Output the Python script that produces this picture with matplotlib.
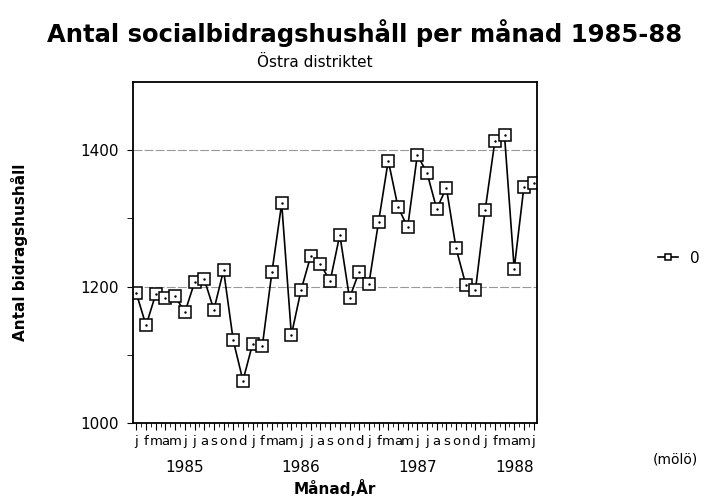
import matplotlib.pyplot as plt
from matplotlib.transforms import blended_transform_factory

# monthly counts, jan 1985 - jun 1988
hushall = [1190, 1143, 1189, 1183, 1186, 1162, 1206, 1211, 1166, 1224, 1121, 1062,
           1116, 1113, 1222, 1322, 1129, 1195, 1245, 1233, 1208, 1276, 1183, 1222,
           1204, 1295, 1385, 1317, 1287, 1393, 1367, 1314, 1345, 1256, 1203, 1195,
           1312, 1413, 1422, 1226, 1346, 1352]
month_letters = list("jfmamjjasond") * 3 + list("jfmamj")
years = ["1985", "1986", "1987", "1988"]
year_pos = [5.0, 17.0, 29.0, 39.0]
series_name = "0"

months = list(range(len(hushall)))

fig = plt.figure(figsize=(7.15, 5.01), dpi=100)
ax = fig.add_axes([0.186, 0.156, 0.565, 0.680])

ax.plot(months, hushall, color='black', linewidth=1.2, marker='s', markersize=8,
        markerfacecolor='white', markeredgecolor='black', markeredgewidth=1.1,
        label=series_name)
ax.plot(months, hushall, linestyle='none', marker='.', markersize=1.5, color='black')

ax.set_xlim(-0.35, len(hushall) - 0.65)
ax.set_ylim(1000, 1500)
ax.set_yticks([1000, 1200, 1400])
ax.set_yticks([1100, 1300], minor=True)
ax.tick_params(axis='y', which='both', direction='out', length=4, labelsize=11, pad=6)
ax.set_xticks(months)
ax.set_xticklabels(month_letters, fontsize=9.5)
ax.set_xticks([m + 0.5 for m in months[:-1]], minor=True)
ax.tick_params(axis='x', which='major', direction='out', length=5, pad=4)
ax.tick_params(axis='x', which='minor', direction='out', length=3)
ax.grid(axis='y', which='major', color='#999999', linewidth=0.8, linestyle=(0, (8, 2)))
ax.set_axisbelow(True)
for sp in ax.spines.values():
    sp.set_linewidth(1.3)

trans = blended_transform_factory(ax.transData, ax.transAxes)
for y, p in zip(years, year_pos):
    ax.text(p, -0.11, y, transform=trans, ha='center', va='top', fontsize=11)

ax.set_xlabel("Månad,År", fontsize=11, fontweight='bold', labelpad=23)
ax.set_ylabel("Antal bidragshushåll", fontsize=11, fontweight='bold', labelpad=38)

fig.text(0.51, 0.935, "Antal socialbidragshushåll per månad 1985-88",
         ha='center', va='center', fontsize=17.5, fontweight='bold')
fig.text(0.44, 0.875, "Östra distriktet", ha='center', va='center', fontsize=11)

fig.legend(loc='center', bbox_to_anchor=(0.95, 0.485), frameon=False,
           handlelength=1.3, fontsize=11, markerscale=0.6)
fig.text(0.945, 0.083, "(mölö)", ha='center', va='center', fontsize=10)

plt.savefig("out.png", dpi=100)
